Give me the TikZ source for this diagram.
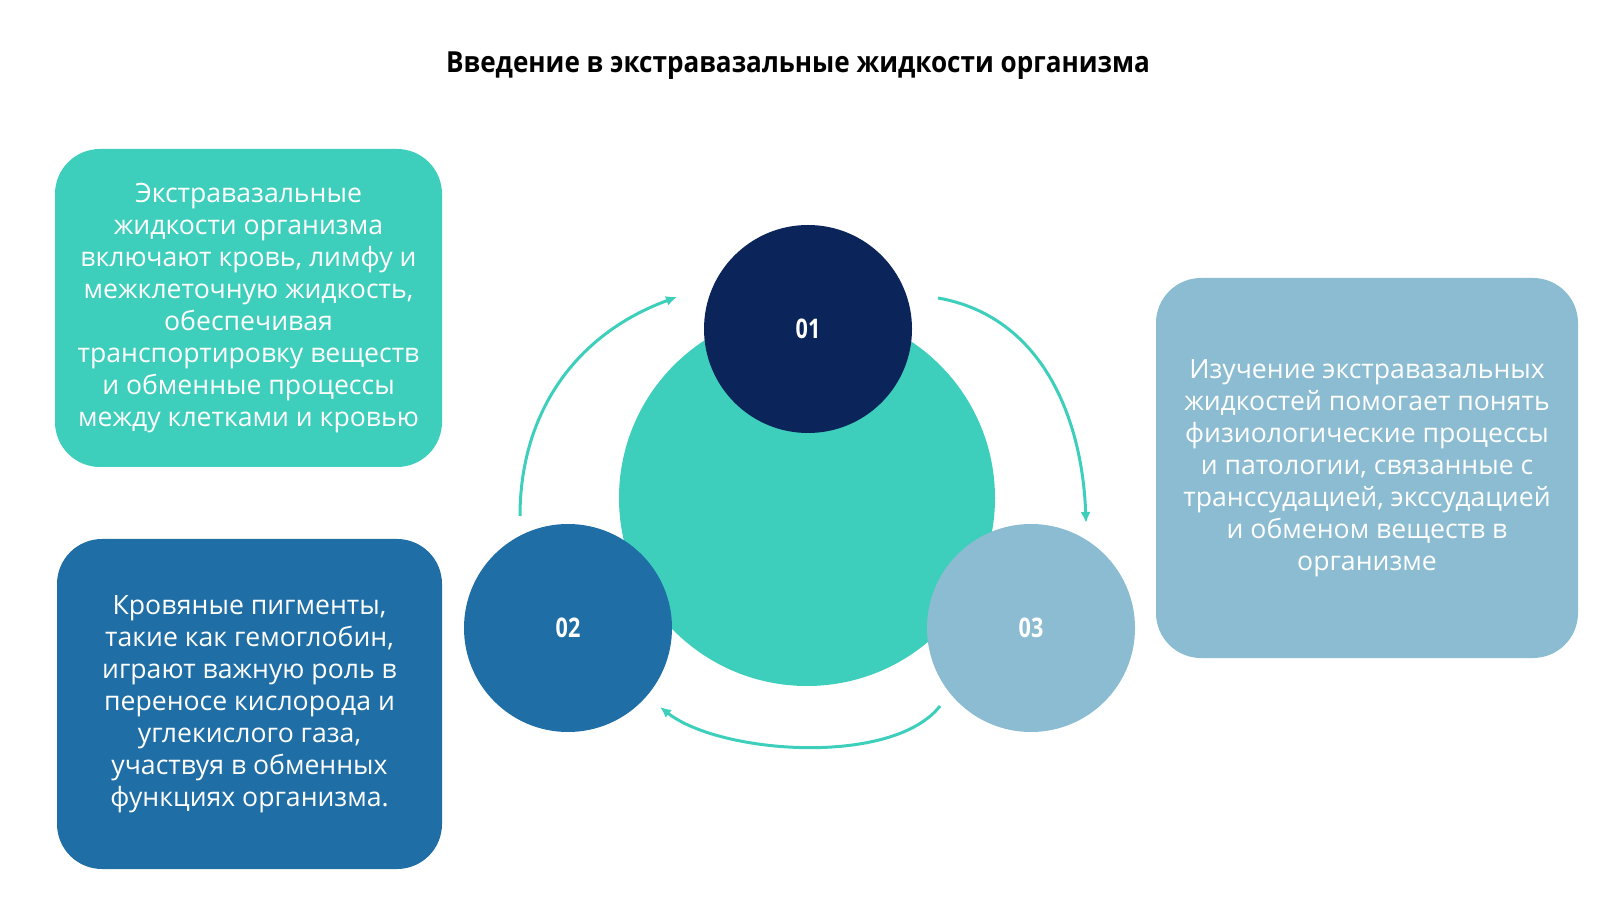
\documentclass[tikz,border=0pt]{standalone}
\usepackage{fontspec}
\setmainfont{Open Sans}
\newfontfamily\titlefont[FakeStretch=0.9]{Open Sans}
\newfontfamily\numfont[FakeStretch=0.8]{Open Sans}
\usetikzlibrary{arrows.meta}
\definecolor{tealc}{HTML}{3ECFBC}
\definecolor{navyc}{HTML}{0B2459}
\definecolor{bluec}{HTML}{1F6EA5}
\definecolor{skyc}{HTML}{8BBCD2}
\tikzstyle{infobox}=[rounded corners=45pt,inner sep=0pt,text=white,align=center,font=\fontsize{26.6}{32}\selectfont]
\tikzstyle{disc}=[circle,inner sep=0pt,minimum size=208pt,text=white,font=\numfont\bfseries\fontsize{27}{30}\selectfont]
\tikzstyle{cycle}=[tealc,line width=3pt,-{Latex[length=11pt,width=10pt]}]

\begin{document}
\begin{tikzpicture}[x=1pt,y=1pt]
\useasboundingbox (0,0) rectangle (1600,900);

\node (title) at (798,834) {\titlefont\bfseries\fontsize{29}{32}\selectfont Введение в экстравазальные жидкости организма};

\node[infobox,fill=tealc,minimum width=387pt,minimum height=318pt] (box1) at (248.5,592)
  {Экстравазальные\\жидкости организма\\включают кровь, лимфу и\\межклеточную жидкость,\\обеспечивая\\транспортировку веществ\\и обменные процессы\\между клетками и кровью};
\node[infobox,fill=bluec,minimum width=385pt,minimum height=330pt] (box2) at (249.5,196)
  {Кровяные пигменты,\\такие как гемоглобин,\\играют важную роль в\\переносе кислорода и\\углекислого газа,\\участвуя в обменных\\функциях организма.};
\node[infobox,fill=skyc,minimum width=422pt,minimum height=380pt] (box3) at (1367,432)
  {Изучение экстравазальных\\жидкостей помогает понять\\физиологические процессы\\и патологии, связанные с\\транссудацией, экссудацией\\и обменом веществ в\\организме};

\node[circle,fill=tealc,minimum size=376pt] (hub) at (807,402) {};
\node[disc,fill=navyc] (c01) at (808,571) {01};
\node[disc,fill=bluec] (c02) at (568,272) {02};
\node[disc,fill=skyc] (c03) at (1031,272) {03};

% ends of the cycle arrows
\coordinate (a02) at (520,384);
\coordinate (a01) at (677,603);
\coordinate (b01) at (938,602);
\coordinate (b03) at (1086,377);
\coordinate (c03e) at (940,194);
\coordinate (c02e) at (660,193);

\draw[cycle] (a02) to[out=90,in=200] (a01);
\draw[cycle] (b01) to[out=-10,in=92] (b03);
\draw[cycle] (c03e) to[out=-128,in=-38,looseness=0.7] (c02e);
\end{tikzpicture}
\end{document}
